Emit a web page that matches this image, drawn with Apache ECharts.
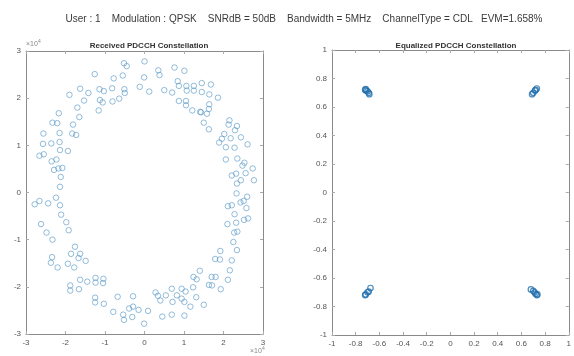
<!DOCTYPE html>
<html>
<head>
<meta charset="utf-8">
<script src="https://cdn.jsdelivr.net/npm/echarts@6/dist/echarts.min.js"></script>
<style>
  html, body { margin: 0; padding: 0; background: #fff; }
  #main { width: 574px; height: 356px; }
</style>
</head>
<body>
<div id="main"></div>
<script>
// received symbols, in units of 1e4
var rxI = [0.00,-0.52,-0.45,-1.26,-0.78,-0.55,-0.01,0.35,0.38,0.76,1.01,0.84,0.87,1.06,1.25,1.45,1.68,1.07,1.25,1.45,1.64,1.86,0.70,0.50,0.12,-0.12,-0.51,-0.50,-0.82,-0.64,-0.81,-1.14,-1.03,-1.13,-1.06,-1.16,-1.42,-1.63,-1.53,-1.90,-1.70,-1.65,-2.17,-2.33,-2.21,-2.56,-2.15,-1.81,-1.83,-1.73,-2.57,-2.36,-2.15,-2.14,-1.94,-2.66,-2.55,-2.35,-2.23,-2.29,-2.18,-2.08,-2.12,-2.14,-2.66,-2.78,-2.44,-2.24,-2.14,-2.11,-1.98,-1.92,-2.62,-2.48,-2.33,-2.34,-2.37,-2.20,-1.76,-1.86,-1.67,-1.63,-1.49,-1.94,-1.78,-1.88,-1.88,-1.66,-1.63,-1.45,-1.24,-1.24,-1.04,-1.05,-1.25,-1.25,-1.03,-0.68,-0.79,-0.54,-0.52,-0.39,-0.29,-0.29,-0.15,-0.31,0.09,-0.01,0.28,0.34,0.40,0.54,0.45,0.69,0.82,0.94,0.71,0.69,1.01,1.01,0.94,1.04,1.16,1.23,1.31,1.24,1.32,1.40,1.50,1.63,1.71,1.70,1.80,1.79,1.91,1.92,1.93,2.11,2.16,2.21,2.34,2.25,2.10,2.21,2.11,2.27,2.35,2.32,2.28,2.43,2.51,2.60,2.58,2.52,2.62,2.33,2.34,2.44,2.21,2.32,2.56,2.48,2.53,2.35,2.74,2.77,2.61,2.44,2.28,2.06,2.06,1.89,1.96,2.02,2.18,2.15,2.13,2.29,2.34,1.50,1.63,1.58,1.63,1.64,1.43,1.41,1.21,1.05,1.05,0.87];
var rxQ = [2.78,2.74,2.68,2.51,2.42,2.48,2.44,2.59,2.49,2.65,2.58,2.36,2.26,2.26,2.26,2.32,2.29,2.16,2.16,2.13,2.08,2.01,2.12,2.17,2.14,2.24,2.19,2.11,2.21,1.99,1.93,2.19,2.15,1.96,1.91,1.74,2.11,2.20,1.95,2.07,1.80,1.60,1.68,1.48,1.47,1.25,1.26,1.44,1.25,1.22,1.03,1.04,1.07,0.90,0.88,0.78,0.81,0.66,0.70,0.48,0.51,0.52,0.33,0.12,-0.18,-0.25,-0.23,-0.11,-0.27,-0.47,-0.63,-0.80,-0.67,-0.85,-1.00,-1.37,-1.49,-1.59,-1.15,-1.30,-1.39,-1.30,-1.45,-1.51,-1.59,-1.97,-2.08,-2.05,-1.85,-1.89,-1.81,-1.91,-1.83,-1.92,-2.23,-2.33,-2.36,-2.21,-2.53,-2.59,-2.70,-2.46,-2.42,-2.20,-2.49,-2.64,-2.51,-2.78,-2.12,-2.19,-2.29,-2.18,-2.63,-2.04,-2.18,-2.25,-2.32,-2.59,-2.32,-2.61,-2.04,-2.10,-2.42,-2.01,-2.22,-1.79,-1.84,-1.66,-2.38,-1.96,-1.97,-1.79,-1.79,-1.41,-1.42,-1.24,-2.05,-1.85,-1.65,-1.44,-1.22,-1.05,-0.67,-0.27,-0.29,-0.85,-0.83,-0.64,-0.46,-0.21,-0.18,-0.09,-0.33,-0.58,-0.55,-0.02,0.19,0.26,0.36,0.40,0.41,0.57,0.63,0.72,0.51,0.26,1.02,1.17,0.95,0.96,0.70,1.06,1.14,1.24,1.15,1.53,1.44,1.32,1.41,1.48,1.34,1.67,1.77,1.87,1.70,1.71,1.74,1.94,1.85,1.94];

// equalized symbols
var eqI = [-0.72,-0.71,-0.715,-0.70,-0.69,-0.685, 0.72,0.73,0.715,0.70,0.69, -0.72,-0.715,-0.70,-0.69,-0.675, 0.68,0.70,0.71,0.72,0.73,0.735];
var eqQ = [0.72,0.715,0.725,0.71,0.70,0.69, 0.72,0.73,0.715,0.70,0.69, -0.72,-0.715,-0.70,-0.695,-0.67, -0.68,-0.69,-0.70,-0.71,-0.72,-0.715];

var figTitle = 'User : 1    Modulation : QPSK    SNRdB = 50dB    Bandwidth = 5MHz    ChannelType = CDL   EVM=1.658%';
var leftTitle = 'Received PDCCH Constellation';
var rightTitle = 'Equalized PDCCH Constellation';

function pairs(a, b) {
    var out = [];
    for (var i = 0; i < a.length; i++) { out.push([a[i], b[i]]); }
    return out;
}

var myChart = echarts.init(document.getElementById('main'));

var lineCol = '#8a8a8a', txtCol = '#555';
var font = 'Liberation Sans, Arial, sans-serif';
var lab = { color: txtCol, fontSize: 8, fontFamily: font };

function mkAxis(idx, pos, min, max, step, showLab) {
    return {
        type: 'value', gridIndex: idx, position: pos, min: min, max: max, interval: step,
        axisLine: { show: true, onZero: false, lineStyle: { color: lineCol, width: 1 } },
        axisTick: { show: true, inside: true, length: 3, lineStyle: { color: '#aaa' } },
        axisLabel: Object.assign({ show: showLab, margin: 5 }, lab),
        splitLine: { show: false }
    };
}

var option = {
    animation: false,
    backgroundColor: '#ffffff',
    title: [
        { text: figTitle, left: 299, top: 9, textAlign: 'center',
          textStyle: { fontSize: 10, fontWeight: 'normal', color: '#3a3a3a', fontFamily: font } },
        { text: leftTitle, left: 144, top: 37, textAlign: 'center',
          textStyle: { fontSize: 8, fontWeight: 'bold', color: '#333', fontFamily: font } },
        { text: rightTitle, left: 451, top: 37, textAlign: 'center',
          textStyle: { fontSize: 8, fontWeight: 'bold', color: '#333', fontFamily: font } }
    ],
    graphic: [
        { type: 'text', left: 26, top: 41, style: { text: '×10', fill: '#888', fontSize: 7 } },
        { type: 'text', left: 38, top: 39, style: { text: '4', fill: '#888', fontSize: 5 } },
        { type: 'text', left: 250, top: 348, style: { text: '×10', fill: '#888', fontSize: 7 } },
        { type: 'text', left: 262, top: 346, style: { text: '4', fill: '#888', fontSize: 5 } }
    ],
    grid: [
        { left: 26, top: 51, width: 237, height: 283 },
        { left: 332, top: 50, width: 237, height: 285 }
    ],
    xAxis: [
        mkAxis(0, 'bottom', -3, 3, 1, true),
        mkAxis(0, 'top', -3, 3, 1, false),
        mkAxis(1, 'bottom', -1, 1, 0.2, true),
        mkAxis(1, 'top', -1, 1, 0.2, false)
    ],
    yAxis: [
        mkAxis(0, 'left', -3, 3, 1, true),
        mkAxis(0, 'right', -3, 3, 1, false),
        mkAxis(1, 'left', -1, 1, 0.2, true),
        mkAxis(1, 'right', -1, 1, 0.2, false)
    ],
    series: [
        { type: 'scatter', xAxisIndex: 0, yAxisIndex: 0, data: pairs(rxI, rxQ),
          symbol: 'circle', symbolSize: 5.5,
          itemStyle: { color: 'rgba(0,0,0,0)', borderColor: '#5596c4', borderWidth: 0.8 } },
        { type: 'scatter', xAxisIndex: 2, yAxisIndex: 2, data: pairs(eqI, eqQ),
          symbol: 'circle', symbolSize: 5.5,
          itemStyle: { color: 'rgba(0,0,0,0)', borderColor: '#1f6ead', borderWidth: 1.2 } }
    ]
};

myChart.setOption(option);
</script>
</body>
</html>
